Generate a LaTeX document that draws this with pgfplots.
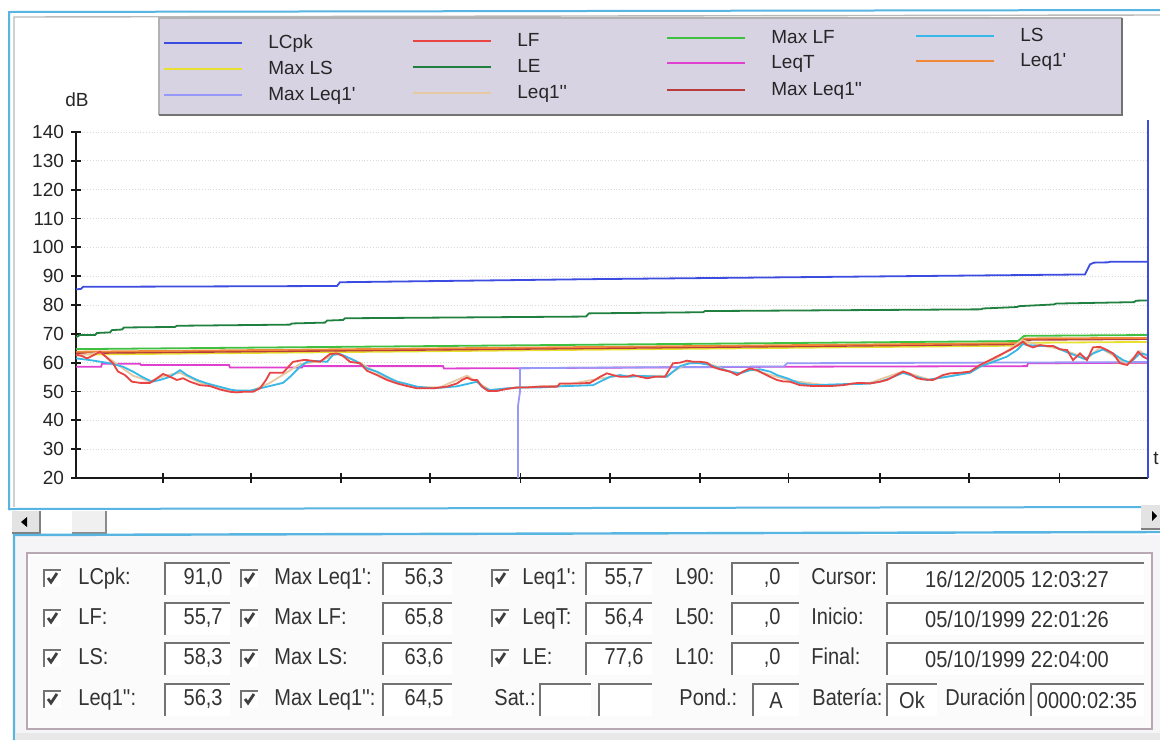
\documentclass[border=0pt]{standalone}
\usepackage{pgfplots}
\pgfplotsset{compat=1.18}
\usepackage{fontspec}
\setmainfont{Liberation Sans}[Ligatures=TeXOff]
\newfontfamily\panelfont{Liberation Sans}[FakeStretch=0.87,Ligatures=TeXOff]
\definecolor{cLCpk}{HTML}{3C4CE0}
\definecolor{cLF}{HTML}{E84444}
\definecolor{cMaxLF}{HTML}{40C040}
\definecolor{cLS}{HTML}{38B8E8}
\definecolor{cMaxLS}{HTML}{E8E030}
\definecolor{cLE}{HTML}{208040}
\definecolor{cLeqT}{HTML}{E040D0}
\definecolor{cLeqA}{HTML}{F08838}
\definecolor{cMaxLeqA}{HTML}{9898F8}
\definecolor{cLeqB}{HTML}{E8C8A0}
\definecolor{cMaxLeqB}{HTML}{B83C3C}
\definecolor{frameblue}{HTML}{58B4E0}
\definecolor{legbg}{HTML}{D7D3E3}
\definecolor{boxline}{HTML}{B8A8B4}
\definecolor{panelbg}{HTML}{F5F5F7}
\tikzset{
  pl/.style={font=\panelfont\fontsize{11.5}{13}\selectfont, text=black!80, inner sep=0pt, yshift=-0.8pt},
  lg/.style={font=\fontsize{9.5}{11}\selectfont, text=black!85, inner sep=0pt, anchor=mid west},
}
\newcommand{\chk}[2]{%
  \fill[white] (#1,#2-8) rectangle (#1+17,#2+9);
  \draw[black!55, line width=1.1pt] (#1,#2+9) -- (#1,#2-8) -- (#1+17,#2-8);
  \draw[black!75, line width=1.4pt] (#1+4,#2) -- (#1+7,#2+4) -- (#1+13,#2-5);
}
\newcommand{\fbx}[3]{%
  \fill[white] (#1,#3-15) rectangle (#2,#3+17);
  \draw[black!55, line width=1.4pt] (#1,#3+17) -- (#1,#3-15) -- (#2,#3-15);
}
\newcommand{\legline}[4]{% x, y, colour, text
  \draw[#3, line width=1pt] (#1,#2) -- (#1+78,#2);
  \node[lg] at (#1+104,#2) {#4};
}
\begin{document}
\begin{tikzpicture}[x=0.5pt,y=-0.5pt]
\useasboundingbox (0,0) rectangle (1160,740);
\fill[white] (0,0) rectangle (1160,740);
% chart window frame
\draw[frameblue, line width=1pt] (9,510) -- (9,12) -- (1160,10);
\draw[gray!55, line width=0.7pt] (14,507) -- (14,17) -- (1160,15);
\draw[frameblue, line width=1pt] (9,509) -- (1160,507);
% legend box
\fill[legbg] (159,18) rectangle (1122,115);
\draw[gray!60, line width=0.6pt] (159,115) -- (159,18) -- (1122,18);
\draw[black!55, line width=1.4pt] (159,115) -- (1122,115) -- (1122,18);
\legline{164}{43}{cLCpk}{LCpk}
\legline{164}{69}{cMaxLS}{Max LS}
\legline{164}{95}{cMaxLeqA}{Max Leq1'}
\legline{413}{41}{cLF}{LF}
\legline{413}{67}{cLE}{LE}
\legline{413}{93}{cLeqB}{Leq1''}
\legline{667}{38}{cMaxLF}{Max LF}
\legline{667}{63}{cLeqT}{LeqT}
\legline{667}{90}{cMaxLeqB}{Max Leq1''}
\legline{916}{36}{cLS}{LS}
\legline{916}{61}{cLeqA}{Leq1'}
\node[font=\fontsize{9.5}{11}\selectfont, text=black!85] at (77,100) {dB};
\node[font=\fontsize{9.5}{11}\selectfont, text=black!85] at (1156,458) {t};
\begin{axis}[
  at={(38pt,-239pt)}, anchor=south west,
  scale only axis, width=536pt, height=173pt,
  xmin=76, xmax=1148, ymin=20, ymax=140,
  axis x line*=bottom, axis y line*=left,
  axis line style={black!90, line width=1pt},
  xtick={162.6,250.7,340.6,429.8,520.5,609.7,699.7,788.5,879.6,968.7,1059.4},
  xticklabels={},
  ytick={20,30,...,140},
  tick align=center, major tick length=5pt,
  tick style={black!90, line width=0.9pt},
  ymajorgrids, grid style={densely dotted, gray!30, line width=0.5pt},
  /pgf/number format/assume math mode=true,
  yticklabel style={font=\fontsize{9.5}{11}\selectfont, text=black!85},
  clip=false,
  unbounded coords=jump,
  every axis plot/.append style={line width=0.9pt},
]
\addplot[cMaxLS] coordinates {(76,62.8)(1018,65.9)(1024,66.9)(1148,67.2)};
\addplot[cMaxLeqB] coordinates {(76,63.3)(1018,66.4)(1024,67.9)(1148,68.2)};
\addplot[cLeqA] coordinates {(76,63.8)(1018,66.8)(1024,68.4)(1148,68.6)(1100,nan)(1055,59.8)(1148,60.0)};
\addplot[cMaxLF] coordinates {(76,64.7)(1018,67.5)(1024,69.3)(1148,69.6)};
\addplot[cLE] coordinates {(76,68.8)(80,69.6)(95,69.6)(97,70.3)(110,70.5)(112,71.3)(122,71.5)(124,72.2)(175,72.4)(177,72.8)(290,73.2)(292,73.6)(325,73.9)(327,74.6)(343,74.8)(345,75.4)(586,76.0)(589,77.1)(703,77.5)(705,77.9)(981,78.5)(983,78.8)(1017,79.3)(1019,79.6)(1054,80.2)(1056,80.5)(1134,81.0)(1136,81.5)(1148,81.6)};
\addplot[cLCpk] coordinates {(76,85.4)(81,85.6)(83,86.3)(337,86.6)(340,87.9)(600,89.0)(1085,90.6)(1090,94.1)(1094,94.7)(1108,94.8)(1110,95.0)(1148,95.0)};
\addplot[cLeqT] coordinates {(76,58.6)(101,58.6)(102,59.6)(140,59.6)(141,59.2)(229,59.2)(230,58.3)(302,58.3)(303,58.8)(443,58.8)(444,58.0)(520,58.1)(785,58.6)(1027,58.8)(1028,59.8)(1148,60.0)};
\addplot[cMaxLeqA] coordinates {(518,20)(518,45)(520,50)(520,58.1)(784,58.7)(787,59.8)(1148,60.2)};
\addplot[cLeqB] coordinates {(76,62.5)(100,63.5)(113,60.5)(133,55.5)(150,53.5)(165,55.5)(180,56.5)(200,53)(230,50.5)(250,50)(270,53)(300,59.5)(320,60.5)(337,63.3)(360,60)(387,54.5)(417,51.5)(440,51.5)(467,55.5)(490,50.5)(520,51.5)(560,52)(600,54.5)(620,55.5)(667,55.5)(690,60.5)(710,59.5)(737,56)(750,57.8)(790,53.8)(830,52)(870,53)(903,57)(930,54)(970,56.8)(1000,62.3)(1022,67.8)(1040,66)(1060,64.8)(1087,61.5)(1100,65.2)(1127,59.6)(1140,64)(1148,62)};
\addplot[cLS] coordinates {(76,61.5)(90,60.9)(110,59.8)(123,58.6)(133,56.9)(142,55.1)(152,53.4)(160,54.0)(170,55.1)(180,57.4)(187,55.7)(197,54.0)(207,52.8)(217,51.9)(230,50.7)(237,50.3)(250,50.3)(265,51.5)(283,53.0)(290,55.1)(300,58.6)(307,60.3)(317,60.6)(327,60.3)(333,62.7)(340,63.0)(347,62.0)(357,60.3)(367,58.0)(377,56.9)(387,55.1)(397,53.4)(407,52.6)(417,51.7)(433,51.1)(457,51.8)(477,53.4)(483,51.4)(490,50.5)(507,51.1)(520,51.4)(540,51.4)(560,51.8)(593,52.2)(600,53.4)(610,55.1)(620,55.7)(630,55.1)(640,55.4)(667,55.1)(673,56.9)(680,58.8)(690,59.8)(700,59.8)(710,59.2)(720,58.0)(730,56.9)(740,56.3)(750,57.4)(760,57.7)(770,56.9)(777,55.7)(787,54.6)(800,52.8)(813,52.2)(847,52.6)(860,52.6)(870,52.8)(880,53.4)(890,54.6)(903,56.5)(913,55.4)(927,54.0)(937,54.6)(947,55.1)(957,55.7)(970,56.5)(980,58.6)(993,60.3)(1007,62.1)(1017,64.4)(1023,66.5)(1027,66.1)(1040,65.8)(1053,65.8)(1067,63.6)(1077,62.3)(1085,61.2)(1093,63.2)(1103,64.6)(1113,63.2)(1123,60.9)(1130,60.0)(1140,63.2)(1148,62.7)};
\addplot[cLF] coordinates {(76,62.8)(82,62.3)(87,61.5)(93,62.5)(100,63.8)(106,62)(113,59.8)(118,56.9)(125,55.7)(132,53.4)(140,53.0)(150,53.0)(157,54.6)(163,56.1)(170,55.1)(177,54.0)(183,54.6)(190,53.4)(200,52.2)(210,51.9)(220,50.7)(230,49.9)(237,49.7)(243,49.9)(253,49.9)(260,51.1)(266,54)(270,56.5)(283,56.5)(293,60.3)(303,60.9)(307,60.9)(320,60.3)(330,63.0)(337,63.2)(343,62.3)(350,60.3)(360,59.8)(367,57.2)(377,55.7)(387,54.0)(397,52.8)(407,51.9)(417,51.1)(433,51.1)(447,51.7)(457,52.8)(462,54.0)(467,54.8)(472,54.0)(477,54.0)(482,51.7)(488,50.2)(497,50.2)(507,50.9)(517,51.4)(527,51.4)(540,51.7)(557,51.7)(560,52.8)(580,52.8)(590,53.0)(595,54.0)(600,55.1)(607,56.3)(613,55.7)(620,55.1)(627,55.1)(633,55.7)(640,55.1)(647,54.6)(655,55.1)(665,55.1)(668,56.9)(673,59.8)(680,60.0)(687,60.7)(693,60.3)(700,60.3)(707,60.0)(712,58.6)(720,57.7)(730,56.9)(737,55.7)(743,56.9)(750,58.0)(757,57.4)(763,56.3)(770,55.1)(777,54.0)(783,53.5)(790,53.4)(800,52.2)(813,51.9)(830,51.9)(843,52.2)(853,52.8)(860,53.0)(870,52.8)(880,53.4)(887,54.0)(893,55.1)(903,56.9)(910,56.1)(917,54.6)(923,54.2)(933,54.0)(943,55.7)(950,56.3)(960,56.5)(970,56.9)(980,59.2)(990,60.9)(1000,62.7)(1010,64.4)(1018,66.1)(1023,67.3)(1027,66.1)(1033,65.3)(1040,66.1)(1047,65.8)(1053,65.8)(1060,64.6)(1067,64.4)(1073,60.9)(1080,63.2)(1087,60.9)(1093,65.3)(1100,65.5)(1107,64.4)(1113,63.2)(1120,59.8)(1127,59.2)(1133,61.2)(1138,63.8)(1143,62.1)(1148,61.2)};
\draw[cLCpk, line width=0.9pt] (axis cs:1148,20) -- (axis cs:1148,144.2);
\end{axis}
% scrollbar
\fill[gray!22] (12,511) rectangle (40,533);
\draw[black!50, line width=0.8pt] (12,533) -- (40,533) -- (40,511);
\fill[black] (21,522) -- (27,517) -- (27,527) -- cycle;
\fill[gray!12] (72,511) rectangle (106,533);
\draw[black!45, line width=0.8pt] (72,533) -- (106,533) -- (106,511);
\fill[gray!22] (1141,505) rectangle (1160,529);
\draw[black!50, line width=0.8pt] (1141,529) -- (1160,529);
\fill[black] (1157,516) -- (1152,511) -- (1152,521) -- cycle;
% bottom panel
\fill[panelbg] (15,535) rectangle (1160,740);
\draw[frameblue, line width=1.2pt] (14,740) -- (14,535) -- (1160,532);
\fill[white!60!panelbg] (27,553) rectangle (1152,729);
\draw[boxline, line width=1pt] (27,553) rectangle (1152,729);
\draw[white, line width=0.8pt] (29,727) -- (29,555) -- (1150,555);
\fill[gray!18] (15,733) rectangle (1160,740);
% row 1
\chk{44}{578}\node[pl,anchor=mid west] at (78,578) {LCpk:};
\fbx{165}{230}{578}\node[pl,anchor=mid east] at (223,578) {91,0};
\chk{241}{578}\node[pl,anchor=mid west] at (274,578) {Max Leq1':};
\fbx{383}{452}{578}\node[pl,anchor=mid east] at (444,578) {56,3};
\chk{492}{578}\node[pl,anchor=mid west] at (522,578) {Leq1':};
\fbx{586}{652}{578}\node[pl,anchor=mid east] at (644,578) {55,7};
\node[pl,anchor=mid west] at (675,578) {L90:};
\fbx{732}{799}{578}\node[pl,anchor=mid east] at (781,578) {,0};
\node[pl,anchor=mid west] at (811,578) {Cursor:};
\fbx{887}{1144}{578}\node[pl] at (1017,578) {16/12/2005 12:03:27};
% row 2
\chk{44}{618}\node[pl,anchor=mid west] at (78,618) {LF:};
\fbx{165}{230}{618}\node[pl,anchor=mid east] at (223,618) {55,7};
\chk{241}{618}\node[pl,anchor=mid west] at (274,618) {Max LF:};
\fbx{383}{452}{618}\node[pl,anchor=mid east] at (444,618) {65,8};
\chk{492}{618}\node[pl,anchor=mid west] at (522,618) {LeqT:};
\fbx{586}{652}{618}\node[pl,anchor=mid east] at (644,618) {56,4};
\node[pl,anchor=mid west] at (675,618) {L50:};
\fbx{732}{799}{618}\node[pl,anchor=mid east] at (781,618) {,0};
\node[pl,anchor=mid west] at (811,618) {Inicio:};
\fbx{887}{1144}{618}\node[pl] at (1017,618) {05/10/1999 22:01:26};
% row 3
\chk{44}{658}\node[pl,anchor=mid west] at (78,658) {LS:};
\fbx{165}{230}{658}\node[pl,anchor=mid east] at (223,658) {58,3};
\chk{241}{658}\node[pl,anchor=mid west] at (274,658) {Max LS:};
\fbx{383}{452}{658}\node[pl,anchor=mid east] at (444,658) {63,6};
\chk{492}{658}\node[pl,anchor=mid west] at (522,658) {LE:};
\fbx{586}{652}{658}\node[pl,anchor=mid east] at (644,658) {77,6};
\node[pl,anchor=mid west] at (675,658) {L10:};
\fbx{732}{799}{658}\node[pl,anchor=mid east] at (781,658) {,0};
\node[pl,anchor=mid west] at (811,658) {Final:};
\fbx{887}{1144}{658}\node[pl] at (1017,658) {05/10/1999 22:04:00};
% row 4
\chk{44}{699}\node[pl,anchor=mid west] at (78,699) {Leq1'':};
\fbx{165}{230}{699}\node[pl,anchor=mid east] at (223,699) {56,3};
\chk{241}{699}\node[pl,anchor=mid west] at (274,699) {Max Leq1'':};
\fbx{383}{452}{699}\node[pl,anchor=mid east] at (444,699) {64,5};
\node[pl,anchor=mid west] at (494,699) {Sat.:};
\fbx{540}{591}{699}
\fbx{599}{652}{699}
\node[pl,anchor=mid west] at (679,699) {Pond.:};
\fbx{753}{799}{699}\node[pl] at (776,699) {A};
\node[pl,anchor=mid west] at (812,699) {Batería:};
\fbx{887}{937}{699}\node[pl] at (912,699) {Ok};
\node[pl,anchor=mid west] at (945,699) {Duración};
\fbx{1031}{1144}{699}\node[pl] at (1087,699) {0000:02:35};
\end{tikzpicture}
\end{document}
